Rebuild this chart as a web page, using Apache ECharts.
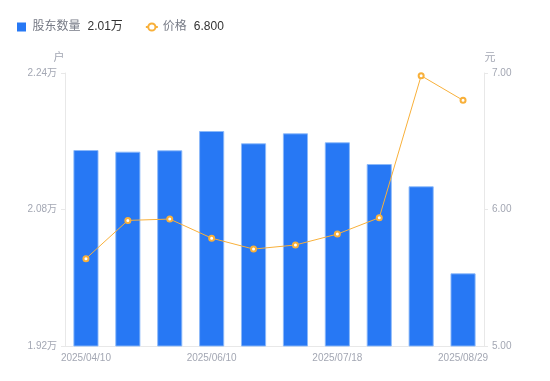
<!DOCTYPE html>
<html>
<head>
<meta charset="utf-8">
<script src="https://cdn.jsdelivr.net/npm/echarts@6/dist/echarts.min.js"></script>
<style>
  html, body { margin: 0; padding: 0; background: #fff; }
  #main { width: 550px; height: 381px; }
</style>
</head>
<body>
<div id="main"></div>
<script>
// 日期
var dateList = ['2025/04/10', '2025/04/30', '2025/05/20', '2025/06/10', '2025/06/20',
  '2025/06/30', '2025/07/18', '2025/07/31', '2025/08/20', '2025/08/29'];
// 股东数量(户)
var holderList = [21497, 21478, 21494, 21720, 21576, 21693, 21588, 21333, 21072, 20052];
// 价格(元)
var priceList = [5.64, 5.92, 5.93, 5.79, 5.71, 5.74, 5.82, 5.94, 6.98, 6.80];
// 坐标轴范围
var holderAxis = { min: 19200, max: 22400, interval: 1600 };
var priceAxis = { min: 5, max: 7, interval: 1 };

var fontFamily = "Arial, 'Noto Sans CJK SC', sans-serif";
var labelColor = '#a3a7b3';
var lineColor = '#e8e8e8';

var chartDom = document.getElementById('main');
var myChart = echarts.init(chartDom);
var option;

function legendFormatter(name) {
  var last = holderList.length - 1;
  if (name === '股东数量') {
    return '{n|' + name + '}{v|' + (holderList[last] / 10000).toFixed(2) + '万}';
  }
  return '{n|' + name + '}{v|' + priceList[last].toFixed(3) + '}';
}

option = {
  animation: false,
  textStyle: { fontFamily: fontFamily },
  legend: {
    left: 12,
    top: 16,
    itemGap: 22,
    itemWidth: 12,
    itemHeight: 9,
    data: [
      { name: '股东数量', icon: 'path://M0,0H10V10H0Z', itemStyle: { borderWidth: 0 } },
      { name: '价格' }
    ],
    formatter: legendFormatter,
    textStyle: {
      rich: {
        n: { fontSize: 12, color: '#777b86', fontFamily: fontFamily },
        v: { fontSize: 12, color: '#333', padding: [0, 0, 0, 7], fontFamily: fontFamily }
      }
    }
  },
  grid: {
    left: 65,
    right: 66,
    top: 73,
    bottom: 35
  },
  xAxis: {
    type: 'category',
    data: dateList,
    axisLine: { lineStyle: { color: lineColor } },
    axisTick: { show: false },
    axisLabel: {
      interval: 2,
      color: labelColor,
      fontSize: 10,
      margin: 7
    }
  },
  yAxis: [
    {
      type: 'value',
      name: '户',
      nameGap: 10,
      nameTextStyle: { color: labelColor, fontSize: 11, padding: [0, 12, 0, 0] },
      min: holderAxis.min,
      max: holderAxis.max,
      interval: holderAxis.interval,
      axisLine: { show: true, lineStyle: { color: lineColor } },
      axisTick: { show: true, length: 4, lineStyle: { color: lineColor } },
      splitLine: { show: false },
      axisLabel: {
        color: labelColor,
        fontSize: 10,
        margin: 8,
        formatter: function (v) { return (v / 10000).toFixed(2) + '万'; }
      }
    },
    {
      type: 'value',
      name: '元',
      nameGap: 10,
      nameTextStyle: { color: labelColor, fontSize: 11, padding: [0, 0, 0, 12] },
      min: priceAxis.min,
      max: priceAxis.max,
      interval: priceAxis.interval,
      axisLine: { show: true, lineStyle: { color: lineColor } },
      axisTick: { show: true, length: 4, lineStyle: { color: lineColor } },
      splitLine: { show: false },
      axisLabel: {
        color: labelColor,
        fontSize: 10,
        margin: 8,
        formatter: function (v) { return v.toFixed(2); }
      }
    }
  ],
  series: [
    {
      name: '股东数量',
      type: 'bar',
      yAxisIndex: 0,
      barWidth: '60%',
      data: holderList,
      itemStyle: {
        color: '#2778f4',
        borderColor: 'rgba(140,185,250,0.9)',
        borderWidth: 1
      }
    },
    {
      name: '价格',
      type: 'line',
      yAxisIndex: 1,
      data: priceList,
      symbol: 'emptyCircle',
      symbolSize: 5,
      lineStyle: { color: '#f8b03a', width: 1 },
      itemStyle: { color: '#f8b03a', borderWidth: 2 }
    }
  ]
};

option && myChart.setOption(option);
</script>
</body>
</html>
